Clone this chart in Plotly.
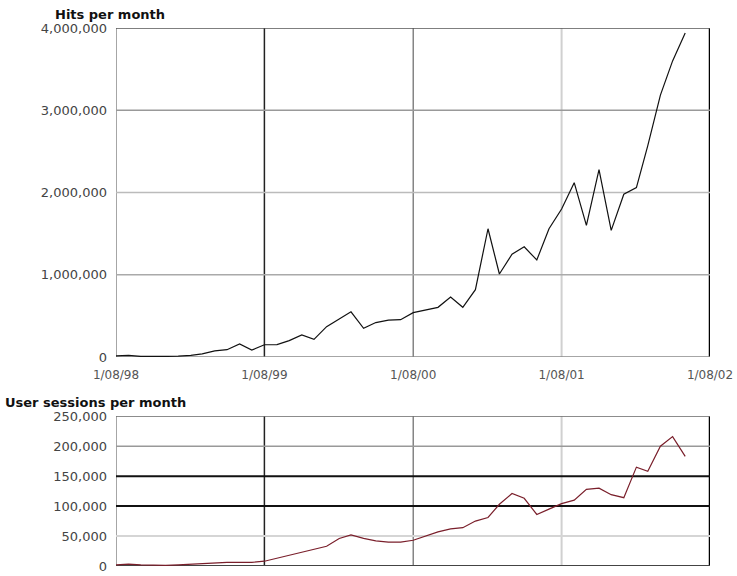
import plotly.graph_objects as go

months = [
    "1998-08", "1998-09", "1998-10", "1998-11", "1998-12",
    "1999-01", "1999-02", "1999-03", "1999-04", "1999-05", "1999-06",
    "1999-07", "1999-08", "1999-09", "1999-10", "1999-11", "1999-12",
    "2000-01", "2000-02", "2000-03", "2000-04", "2000-05", "2000-06",
    "2000-07", "2000-08", "2000-09", "2000-10", "2000-11", "2000-12",
    "2001-01", "2001-02", "2001-03", "2001-04", "2001-05", "2001-06",
    "2001-07", "2001-08", "2001-09", "2001-10", "2001-11", "2001-12",
    "2002-01", "2002-02", "2002-03", "2002-04", "2002-05", "2002-06",
]

hits = [
    15000, 20000, 8000, 5000, 8000, 12000, 20000, 40000, 75000, 90000,
    160000, 85000, 150000, 152000, 200000, 270000, 215000, 370000, 460000, 550000,
    350000, 420000, 450000, 455000, 540000, 575000, 605000, 730000, 605000, 820000,
    1560000, 1010000, 1250000, 1340000, 1180000, 1560000, 1800000, 2120000, 1600000, 2280000,
    1540000, 1980000, 2060000, 2570000, 3185000, 3600000, 3940000,
]

sessions = [
    2000, 3000, 2000, 1000, 1000, 2000, 3000, 5000, 6000, 6000,
    6000, 6000, 8000, 13000, 17000, 23000, 28000, 33000, 46000, 52000,
    46000, 42000, 40000, 40000, 43000, 50000, 57000, 62000, 64000, 75000,
    81000, 103000, 121000, 113000, 86000, 95000, 104000, 110000, 128000, 130000,
    119000, 114000, 165000, 158000, 200000, 216000, 183000,
]

x_tick_vals = ["1998-08-01", "1999-08-01", "2000-08-01", "2001-08-01", "2002-08-01"]
x_tick_text = ["1/08/98", "1/08/99", "1/08/00", "1/08/01", "1/08/02"]
top_y_ticks = [0, 1000000, 2000000, 3000000, 4000000]
top_y_text = ["0", "1,000,000", "2,000,000", "3,000,000", "4,000,000"]
bot_y_ticks = [0, 50000, 100000, 150000, 200000, 250000]
bot_y_text = ["0", "50,000", "100,000", "150,000", "200,000", "250,000"]

x_dates = [m + "-01" for m in months]

FONT = "DejaVu Sans, Verdana, sans-serif"

fig = go.Figure()
fig.add_trace(go.Scatter(x=x_dates, y=hits, mode="lines", xaxis="x", yaxis="y",
                         line=dict(color="#111111", width=1.2), showlegend=False))
fig.add_trace(go.Scatter(x=x_dates, y=sessions, mode="lines", xaxis="x2", yaxis="y2",
                         line=dict(color="#7a1f2b", width=1.2), showlegend=False))

tickfont = dict(family=FONT, size=13, color="#444444")

xcommon = dict(type="date", range=[x_tick_vals[0], x_tick_vals[-1]],
               tickvals=x_tick_vals, ticktext=x_tick_text,
               showgrid=False, zeroline=False, ticks="", showline=False)

fig.update_layout(
    width=737, height=576,
    margin=dict(l=116, r=27, t=28, b=2),
    paper_bgcolor="white", plot_bgcolor="white",
    xaxis=dict(**xcommon, domain=[0, 1], anchor="y", ticklabelstandoff=9,
               tickfont=dict(family=FONT, size=12, color="#555555")),
    yaxis=dict(domain=[0.3883, 1.0], range=[0, 4000000], tickvals=top_y_ticks, ticktext=top_y_text,
               showgrid=False, zeroline=False, showline=False, ticks="", tickfont=tickfont,
               ticklabelstandoff=8, anchor="x"),
    xaxis2=dict(**xcommon, domain=[0, 1], anchor="y2", showticklabels=False),
    yaxis2=dict(domain=[0.0, 0.2784], range=[0, 250000], tickvals=bot_y_ticks, ticktext=bot_y_text,
                showgrid=False, zeroline=False, showline=False, ticks="", tickfont=tickfont,
                ticklabelstandoff=8, anchor="x2"),
)

shapes = []
v_styles = [("#888888", 1.5), ("#222222", 1.5), ("#666666", 1.2), ("#d0d0d0", 2), ("#000000", 2.5)]
for (xa, ya) in [("x", "y"), ("x2", "y2")]:
    for tv, (col, w) in zip(x_tick_vals, v_styles):
        shapes.append(dict(type="line", xref=xa, yref=ya + " domain", x0=tv, x1=tv, y0=0, y1=1,
                           line=dict(color=col, width=w), layer="below"))

top_h_styles = [("#888888", 1.5), ("#aaaaaa", 1.5), ("#bbbbbb", 1.5), ("#999999", 1.5), ("#555555", 1.5)]
for tv, (col, w) in zip(top_y_ticks, top_h_styles):
    shapes.append(dict(type="line", xref="x domain", yref="y", x0=0, x1=1, y0=tv, y1=tv,
                       line=dict(color=col, width=w), layer="below"))

bot_h_styles = [("#444444", 2), ("#d5d5d5", 2), ("#111111", 2), ("#111111", 2), ("#999999", 1.5), ("#666666", 1.5)]
for tv, (col, w) in zip(bot_y_ticks, bot_h_styles):
    shapes.append(dict(type="line", xref="x2 domain", yref="y2", x0=0, x1=1, y0=tv, y1=tv,
                       line=dict(color=col, width=w), layer="below"))

fig.update_layout(shapes=shapes)

fig.add_annotation(text="<b>Hits per month</b>", xref="paper", yref="paper", x=-0.106, y=1.0,
                   xanchor="left", yanchor="middle", yshift=14, showarrow=False,
                   font=dict(family=FONT, size=13, color="#111111"))
fig.add_annotation(text="<b>User sessions per month</b>", xref="paper", yref="paper", x=-0.19, y=0.2784,
                   xanchor="left", yanchor="middle", yshift=14, showarrow=False,
                   font=dict(family=FONT, size=13, color="#111111"))

fig.write_html("out.html", config={"displayModeBar": False},
               post_script="document.body.style.margin='0';document.body.style.overflow='hidden';")
